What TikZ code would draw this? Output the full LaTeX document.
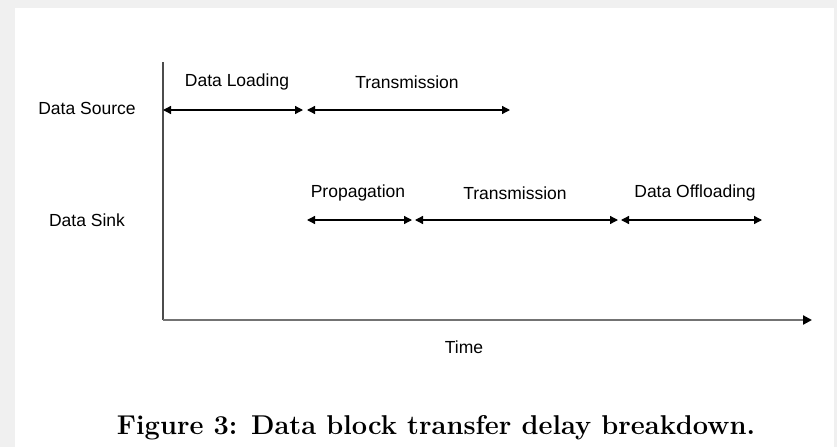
\documentclass[tikz,border=0pt]{standalone}
\usepackage{fontspec}
\newfontfamily\labelfont{Liberation Sans}
\usetikzlibrary{arrows.meta, positioning}

\begin{document}
\begin{tikzpicture}[x=1pt,y=-1pt,
    span/.style={{Triangle[length=8pt,width=8pt]}-{Triangle[length=8pt,width=8pt]}, line width=1.3pt},
    lbl/.style={font=\labelfont\fontsize{17.5}{20}\selectfont, inner sep=0pt}]
        % Page
        \fill[black!6] (0,0) rectangle (837,447);
        \fill[white] (15,8) rectangle (834,447);
        \useasboundingbox (0,0) rectangle (837,447);

        % Axes
        \coordinate (origin) at (163,320);
        \coordinate (ytop) at (163,62);
        \coordinate (xend) at (812,320);
        \draw[black!70, line width=1.4pt] (ytop) -- (origin);
        \draw[black!55, line width=2.2pt, -{Triangle[length=9pt,width=9pt,color=black]}] (origin) -- (xend);
        \node[lbl] (time) at (464,347) {Time};

        % Row labels
        \node[lbl] (source) at (87,108) {Data Source};
        \node[lbl] (sink) at (87,220) {Data Sink};

        % Source row
        \coordinate (s0) at (163,110);
        \coordinate (s1) at (303,110);
        \coordinate (s2) at (307,110);
        \coordinate (s3) at (510,110);
        \node[lbl] (loading) at (237,82) {Data Loading};
        \node[lbl] (txsrc) at (407,82) {Transmission};

        % Sink row
        \coordinate (k0) at (307,220);
        \coordinate (k1) at (412,220);
        \coordinate (k2) at (415,220);
        \coordinate (k3) at (618,220);
        \coordinate (k4) at (621,220);
        \coordinate (k5) at (762,220);
        \node[lbl] (prop) at (358,193) {Propagation};
        \node[lbl] (txsink) at (515,193) {Transmission};
        \node[lbl] (offload) at (695,193) {Data Offloading};

        % Delay spans
        \foreach \a/\b in {s0/s1, s2/s3, k0/k1, k2/k3, k4/k5} {
            \draw[span] (\a) -- (\b);
        }

        % Caption
        \node[font=\bfseries\fontsize{27.2}{32}\selectfont, inner sep=0pt] (caption) at (436,428)
            {Figure 3: Data block transfer delay breakdown.};
\end{tikzpicture}
\end{document}
